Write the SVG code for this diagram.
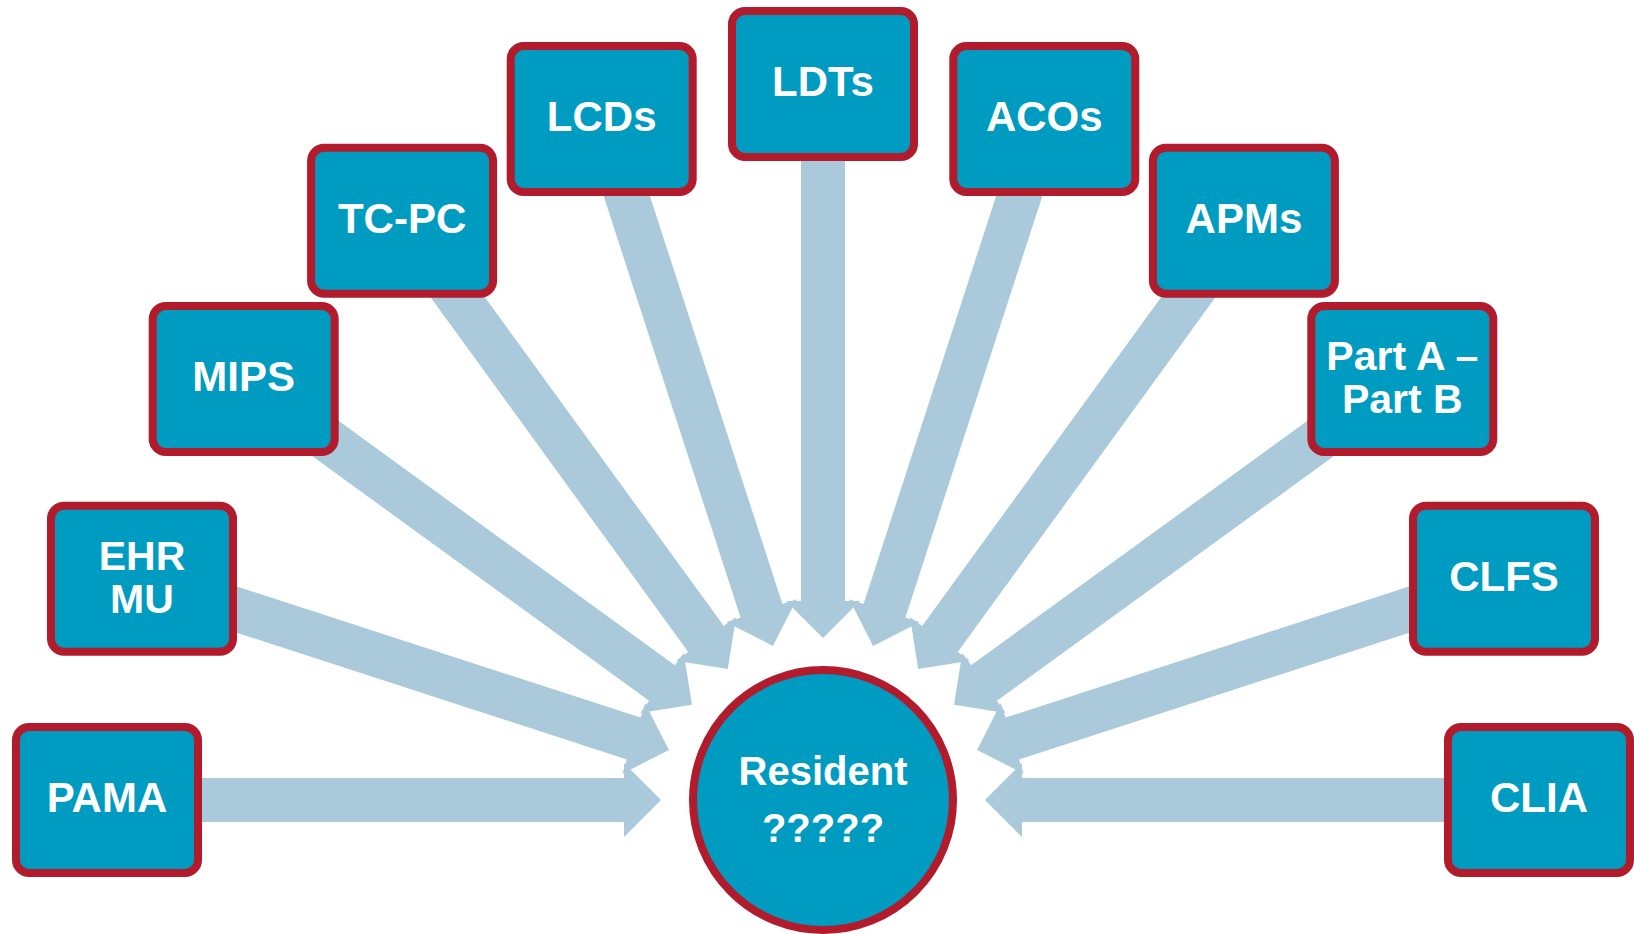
<svg xmlns="http://www.w3.org/2000/svg" xmlns:xlink="http://www.w3.org/1999/xlink" width="1634" height="934" viewBox="0 0 1634 934">
<style>
.box{fill:#009BC0;stroke:#B11B2C;stroke-width:8}
.lbl{font-family:"Liberation Sans",Arial,sans-serif;font-weight:bold;font-size:42px;fill:#FFFFFF;text-anchor:middle}
.lbl2{font-family:"Liberation Sans",Arial,sans-serif;font-weight:bold;font-size:41px;fill:#FFFFFF;text-anchor:middle}
.clbl{font-family:"Liberation Sans",Arial,sans-serif;font-weight:bold;font-size:40px;fill:#FFFFFF;text-anchor:middle}
.arr{fill:#AACADB}
</style>
<defs>
<path id="arrow" class="arr" d="M-716,-22 L-199,-22 L-199,-37 L-162,0 L-199,37 L-199,22 L-716,22 Z"/>
</defs>
<rect width="1634" height="934" fill="#FFFFFF"/>
<g id="connectors">
<use xlink:href="#arrow" transform="translate(823,800) rotate(0)"/>
<use xlink:href="#arrow" transform="translate(823,800) rotate(18)"/>
<use xlink:href="#arrow" transform="translate(823,800) rotate(36)"/>
<use xlink:href="#arrow" transform="translate(823,800) rotate(54)"/>
<use xlink:href="#arrow" transform="translate(823,800) rotate(72)"/>
<use xlink:href="#arrow" transform="translate(823,800) rotate(90)"/>
<use xlink:href="#arrow" transform="translate(823,800) rotate(108)"/>
<use xlink:href="#arrow" transform="translate(823,800) rotate(126)"/>
<use xlink:href="#arrow" transform="translate(823,800) rotate(144)"/>
<use xlink:href="#arrow" transform="translate(823,800) rotate(162)"/>
<use xlink:href="#arrow" transform="translate(823,800) rotate(180)"/>
</g>
<g id="pama"><rect class="box" x="16" y="727" width="182" height="146" rx="13"/><text class="lbl" x="107" y="812">PAMA</text></g>
<g id="ehr-mu"><rect class="box" x="51" y="505.7" width="182" height="146" rx="13"/><text class="lbl2" x="142" y="570">EHR</text><text class="lbl2" x="142" y="613">MU</text></g>
<g id="mips"><rect class="box" x="152.7" y="306.1" width="182" height="146" rx="13"/><text class="lbl" x="243.7" y="391">MIPS</text></g>
<g id="tc-pc"><rect class="box" x="311.1" y="147.7" width="182" height="146" rx="13"/><text class="lbl" x="402.1" y="233">TC-PC</text></g>
<g id="lcds"><rect class="box" x="510.7" y="46" width="182" height="146" rx="13"/><text class="lbl" x="601.7" y="131">LCDs</text></g>
<g id="ldts"><rect class="box" x="732" y="11" width="182" height="146" rx="13"/><text class="lbl" x="823" y="96">LDTs</text></g>
<g id="acos"><rect class="box" x="953.3" y="46" width="182" height="146" rx="13"/><text class="lbl" x="1044.3" y="131">ACOs</text></g>
<g id="apms"><rect class="box" x="1152.9" y="147.7" width="182" height="146" rx="13"/><text class="lbl" x="1243.9" y="233">APMs</text></g>
<g id="part-a-part-b"><rect class="box" x="1311.3" y="306.1" width="182" height="146" rx="13"/><text class="lbl2" x="1402.3" y="370">Part A –</text><text class="lbl2" x="1402.3" y="413">Part B</text></g>
<g id="clfs"><rect class="box" x="1413" y="505.7" width="182" height="146" rx="13"/><text class="lbl" x="1504" y="591">CLFS</text></g>
<g id="clia"><rect class="box" x="1448" y="727" width="182" height="146" rx="13"/><text class="lbl" x="1539" y="812">CLIA</text></g>
<g id="resident"><circle class="box" cx="823" cy="800" r="130"/><text class="clbl" x="823" y="785">Resident</text><text class="clbl" x="823" y="842">?????</text></g>
</svg>
